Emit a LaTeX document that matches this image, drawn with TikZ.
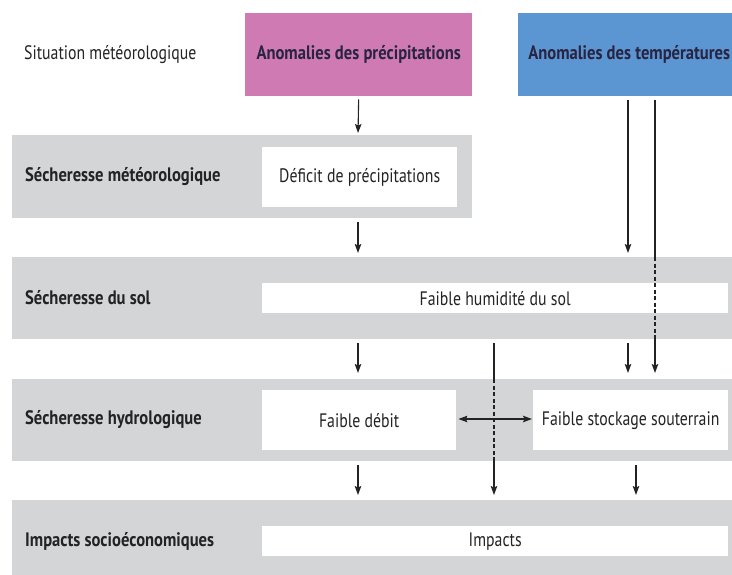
\documentclass[tikz,border=0pt]{standalone}
\usepackage{fontspec}
\setmainfont[FakeStretch=0.81, BoldFeatures={FakeStretch=0.85}]{PT Sans}
\usetikzlibrary{arrows.meta}
\definecolor{pinkc}{RGB}{208,122,180}
\definecolor{bluec}{RGB}{92,150,210}
\definecolor{grayc}{RGB}{212,213,215}
\definecolor{navy}{RGB}{40,36,66}
\definecolor{ink}{RGB}{35,35,35}
\begin{document}
\begin{tikzpicture}[x=1pt,y=-1pt,
  band/.style={fill=grayc, draw=none, inner sep=0pt, anchor=north west},
  wbox/.style={fill=white, draw=none, inner sep=0pt, anchor=north west, text=ink,
    font=\fontsize{19.5}{22}\selectfont},
  cbox/.style={draw=none, inner sep=0pt, anchor=north west, text=navy,
    font=\bfseries\fontsize{19.5}{22}\selectfont},
  lab/.style={anchor=west, inner sep=0pt, text=ink, font=\bfseries\fontsize{19.5}{22}\selectfont},
  plainlab/.style={anchor=west, inner sep=0pt, text=ink, font=\fontsize{19.5}{22}\selectfont},
  ln/.style={line width=1.1pt, draw=ink},
  arr/.style={ln, -{Stealth[length=9pt,width=6.5pt,inset=1.5pt]}},
  dbl/.style={ln, {Stealth[length=9pt,width=6.5pt,inset=1.5pt]}-{Stealth[length=9pt,width=6.5pt,inset=1.5pt]}},
  dsh/.style={ln, dash pattern=on 4pt off 2.5pt},
]
\useasboundingbox (0,0) rectangle (732,574);
\clip (0,0) rectangle (732,574);

% bands
\node[band, minimum width=460pt, minimum height=83pt] (b1) at (12,135) {};
\node[band, minimum width=740pt, minimum height=82pt] (b2) at (12,257) {};
\node[band, minimum width=740pt, minimum height=82pt] (b3) at (12,379) {};
\node[band, minimum width=740pt, minimum height=90pt] (b4) at (12,500) {};

% top boxes
\node[plainlab] (sit) at (24,55) {Situation météorologique};
\node[cbox, fill=pinkc, minimum width=227pt, minimum height=83pt] (prec) at (245,13) {Anomalies des précipitations};
\node[cbox, fill=bluec, minimum width=222pt, minimum height=83pt] (temp) at (518,13) {Anomalies des températures};

% band labels
\node[lab] (l1) at (25,177) {Sécheresse météorologique};
\node[lab] (l2) at (25,298) {Sécheresse du sol};
\node[lab] (l3) at (25,420) {Sécheresse hydrologique};
\node[lab] (l4) at (25,541) {Impacts socioéconomiques};

% white boxes
\node[wbox, minimum width=195pt, minimum height=60pt] (def) at (262,147) {Déficit de précipitations};
\node[wbox, minimum width=466pt, minimum height=30pt] (hum) at (262,283) {Faible humidité du sol};
\node[wbox, minimum width=194pt, minimum height=60pt] (deb) at (262,390) {Faible débit};
\node[wbox, minimum width=195pt, minimum height=60pt] (sto) at (533,390) {Faible stockage souterrain};
\node[wbox, minimum width=466pt, minimum height=30pt] (imp) at (262,526) {Impacts};

% helper coordinates
\coordinate (xa) at (358,0);
\coordinate (xb) at (494,0);
\coordinate (xc) at (628,0);
\coordinate (xd) at (655,0);
\coordinate (xe) at (636,0);

% arrows
\draw[arr, shorten <=3pt, shorten >=2pt] (prec.south) -- (xa |- b1.north);
\draw[arr, shorten <=4pt, shorten >=4pt] (xa |- b1.south) -- (xa |- b2.north);
\draw[arr, shorten <=4pt, shorten >=4pt] (xc |- temp.south) -- (xc |- b2.north);
\draw[ln, shorten <=4pt] (xd |- temp.south) -- (xd |- b2.north);
\draw[dsh] (xd |- b2.north) -- (xd |- b2.south);
\draw[arr, shorten >=6pt] (xd |- b2.south) -- (xd |- b3.north);

\draw[arr, shorten <=4pt, shorten >=6pt] (xa |- b2.south) -- (xa |- b3.north);
\draw[arr, shorten <=4pt, shorten >=6pt] (xc |- b2.south) -- (xc |- b3.north);
\draw[ln, shorten <=4pt] (xb |- b2.south) -- (xb |- b3.north);
\draw[dsh] (xb |- b3.north) -- (xb |- b3.south);
\draw[arr, shorten >=5pt] (xb |- b3.south) -- (xb |- b4.north);

\draw[dbl, shorten <=2pt, shorten >=1pt] (deb.east |- 0,419) -- (sto.west |- 0,419);

\draw[arr, shorten <=4pt, shorten >=5pt] (xa |- b3.south) -- (xa |- b4.north);
\draw[arr, shorten <=4pt, shorten >=5pt] (xe |- b3.south) -- (xe |- b4.north);
\end{tikzpicture}
\end{document}
